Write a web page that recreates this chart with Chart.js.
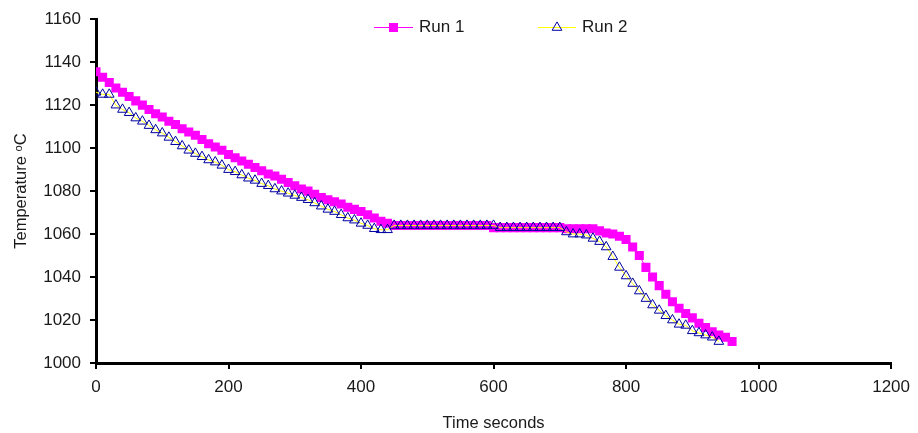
<!DOCTYPE html>
<html>
<head>
<meta charset="utf-8">
<script src="https://cdn.jsdelivr.net/npm/chart.js@4/dist/chart.umd.min.js"></script>
<style>
  html, body { margin: 0; padding: 0; background: #fff; }
  #wrap { width: 918px; height: 433px; }
</style>
</head>
<body>
<div id="wrap"><canvas id="chart1" width="918" height="433"></canvas></div>
<script>
// time (s) and temperature readings
var timeRun1 = [0, 10, 20, 30, 40, 50, 60, 70, 80, 90, 100, 110, 120, 130, 140, 150, 160, 170, 180, 190,
  200, 210, 220, 230, 240, 250, 260, 270, 280, 290, 300, 310, 320, 330, 340, 350, 360, 370, 380, 390,
  400, 410, 420, 430, 440, 450, 460, 470, 480, 490, 500, 510, 520, 530, 540, 550, 560, 570, 580, 590,
  600, 610, 620, 630, 640, 650, 660, 670, 680, 690, 700, 710, 720, 730, 740, 750, 760, 770, 780, 790,
  800, 810, 820, 830, 840, 850, 860, 870, 880, 890, 900, 910, 920, 930, 940, 950, 960];
var tempRun1 = [1135.5, 1133, 1130.5, 1128, 1126, 1124, 1122, 1120, 1118, 1116, 1114.5, 1112.5, 1111, 1109, 1107.5, 1106, 1104, 1102, 1100.5, 1099,
  1097, 1095.5, 1094, 1092.5, 1091, 1089.5, 1088, 1087, 1085.5, 1084, 1082.5, 1081, 1080, 1078.5, 1077, 1076, 1075, 1074, 1072.5, 1071.5,
  1070.5, 1069, 1067.5, 1066, 1065, 1064, 1064, 1064, 1064, 1064, 1064, 1064, 1064, 1064, 1064, 1064, 1064, 1064, 1064, 1064,
  1063, 1063, 1063, 1063, 1063, 1063, 1063, 1063, 1063, 1063, 1063, 1062.5, 1062.5, 1062.5, 1062.5, 1062.5, 1061.5, 1060.5, 1060, 1059,
  1057.5, 1054, 1050, 1044.5, 1040, 1036, 1032, 1028.5, 1025.5, 1023, 1021, 1018.5, 1016.5, 1014.5, 1013, 1012, 1010];

var timeRun2 = [0, 10, 20, 30, 40, 50, 60, 70, 80, 90, 100, 110, 120, 130, 140, 150, 160, 170, 180, 190,
  200, 210, 220, 230, 240, 250, 260, 270, 280, 290, 300, 310, 320, 330, 340, 350, 360, 370, 380, 390,
  400, 410, 420, 430, 440, 450, 460, 470, 480, 490, 500, 510, 520, 530, 540, 550, 560, 570, 580, 590,
  600, 610, 620, 630, 640, 650, 660, 670, 680, 690, 700, 710, 720, 730, 740, 750, 760, 770, 780, 790,
  800, 810, 820, 830, 840, 850, 860, 870, 880, 890, 900, 910, 920, 930, 940];
var tempRun2 = [1126, 1125, 1125, 1120, 1118, 1116.5, 1114, 1112.5, 1110.5, 1108.5, 1107, 1105, 1103, 1101, 1099, 1097.5, 1096, 1094.5, 1093.5, 1092,
  1090, 1089, 1087.5, 1086, 1085, 1083.5, 1082.5, 1081, 1080, 1079, 1078, 1077, 1076, 1074.5, 1073, 1071.5, 1070.5, 1069, 1067.5, 1066.5,
  1065, 1064, 1062.5, 1062, 1062, 1064, 1064, 1064, 1064, 1064, 1064, 1064, 1064, 1064, 1064, 1064, 1064, 1064, 1064, 1064,
  1064, 1063, 1063, 1063, 1063, 1063, 1063, 1063, 1063, 1063, 1063, 1061, 1060, 1060, 1059.5, 1058, 1056.5, 1054, 1049.5, 1044.5,
  1040.5, 1037, 1033.5, 1030, 1027, 1024.5, 1022, 1020, 1018, 1017.5, 1015, 1014, 1013, 1012, 1010];

var xTicks = [0, 200, 400, 600, 800, 1000, 1200];
var yTicks = [1000, 1020, 1040, 1060, 1080, 1100, 1120, 1140, 1160];

function toPoints(xs, ys) {
    var out = [];
    for (var i = 0; i < ys.length; i++) out.push({x: xs[i], y: ys[i]});
    return out;
}

var FONT = "'Liberation Sans', Arial, sans-serif";
var TEXT = '#1a1a1a';

// legend: short line with the marker in the middle, like the original
var lineLegend = {
    id: 'lineLegend',
    afterDraw: function(chart) {
        var ctx = chart.ctx;
        var items = [
            {ds: chart.data.datasets[0], x1: 374, x2: 413, tx: 419},
            {ds: chart.data.datasets[1], x1: 538, x2: 576, tx: 582}
        ];
        var y = 27.5;
        ctx.save();
        items.forEach(function(it) {
            ctx.strokeStyle = it.ds.borderColor;
            ctx.lineWidth = 1.2;
            ctx.beginPath();
            ctx.moveTo(it.x1, y);
            ctx.lineTo(it.x2, y);
            ctx.stroke();
            ctx.fillStyle = it.ds.pointBackgroundColor;
            ctx.strokeStyle = it.ds.pointBorderColor;
            ctx.lineWidth = it.ds.pointBorderWidth;
            Chart.helpers.drawPoint(ctx, {
                pointStyle: it.ds.pointStyle,
                rotation: 0,
                radius: it.ds.pointRadius,
                borderWidth: it.ds.pointBorderWidth
            }, (it.x1 + it.x2) / 2, y);
            ctx.fillStyle = TEXT;
            ctx.font = '17px ' + FONT;
            ctx.textBaseline = 'middle';
            ctx.textAlign = 'left';
            ctx.fillText(it.ds.label, it.tx, y);
        });
        ctx.restore();
    }
};

function plainTick(v) { return String(v); }

new Chart(document.getElementById('chart1'), {
    type: 'line',
    data: {
        datasets: [{
            label: 'Run 1',
            data: toPoints(timeRun1, tempRun1),
            borderColor: '#ff00ff',
            borderWidth: 1,
            pointStyle: 'rect',
            pointRadius: 6.4,
            pointBackgroundColor: '#ff00ff',
            pointBorderColor: '#ff00ff',
            pointBorderWidth: 0,
            order: 1
        }, {
            label: 'Run 2',
            data: toPoints(timeRun2, tempRun2),
            borderColor: '#ffff00',
            borderWidth: 1,
            pointStyle: 'triangle',
            pointRadius: 5.6,
            pointBackgroundColor: 'rgba(255,255,255,0)',
            pointBorderColor: '#0000a0',
            pointBorderWidth: 1,
            order: 0
        }]
    },
    options: {
        responsive: false,
        devicePixelRatio: 1,
        animation: false,
        layout: { padding: { top: 16, right: 24, bottom: 0, left: 0 } },
        plugins: {
            legend: { display: false },
            tooltip: { enabled: false }
        },
        scales: {
            x: {
                type: 'linear',
                min: 0,
                max: 1200,
                afterBuildTicks: function(scale) {
                    scale.ticks = xTicks.map(function(v) { return {value: v}; });
                },
                afterFit: function(scale) { scale.height = 70; },
                border: { display: true, color: '#000', width: 3 },
                grid: { drawOnChartArea: false, drawTicks: true, tickLength: 6, color: '#000', lineWidth: 2 },
                ticks: { color: TEXT, font: { family: FONT, size: 17 }, padding: 8, maxRotation: 0, callback: plainTick },
                title: { display: true, text: 'Time seconds', color: TEXT, font: { family: FONT, size: 16.5 }, padding: { top: 0, bottom: 0 } }
            },
            y: {
                type: 'linear',
                min: 1000,
                max: 1160,
                afterBuildTicks: function(scale) {
                    scale.ticks = yTicks.map(function(v) { return {value: v}; });
                },
                afterFit: function(scale) { scale.width = 96; },
                border: { display: true, color: '#000', width: 3 },
                grid: { drawOnChartArea: false, drawTicks: true, tickLength: 6, color: '#000', lineWidth: 2 },
                ticks: { color: TEXT, font: { family: FONT, size: 17 }, padding: 9, callback: plainTick },
                title: { display: true, text: 'Temperature \u1D52C', color: TEXT, font: { family: FONT, size: 16.5 }, padding: { top: 12, bottom: 0 } }
            }
        }
    },
    plugins: [lineLegend]
});
</script>
</body>
</html>
